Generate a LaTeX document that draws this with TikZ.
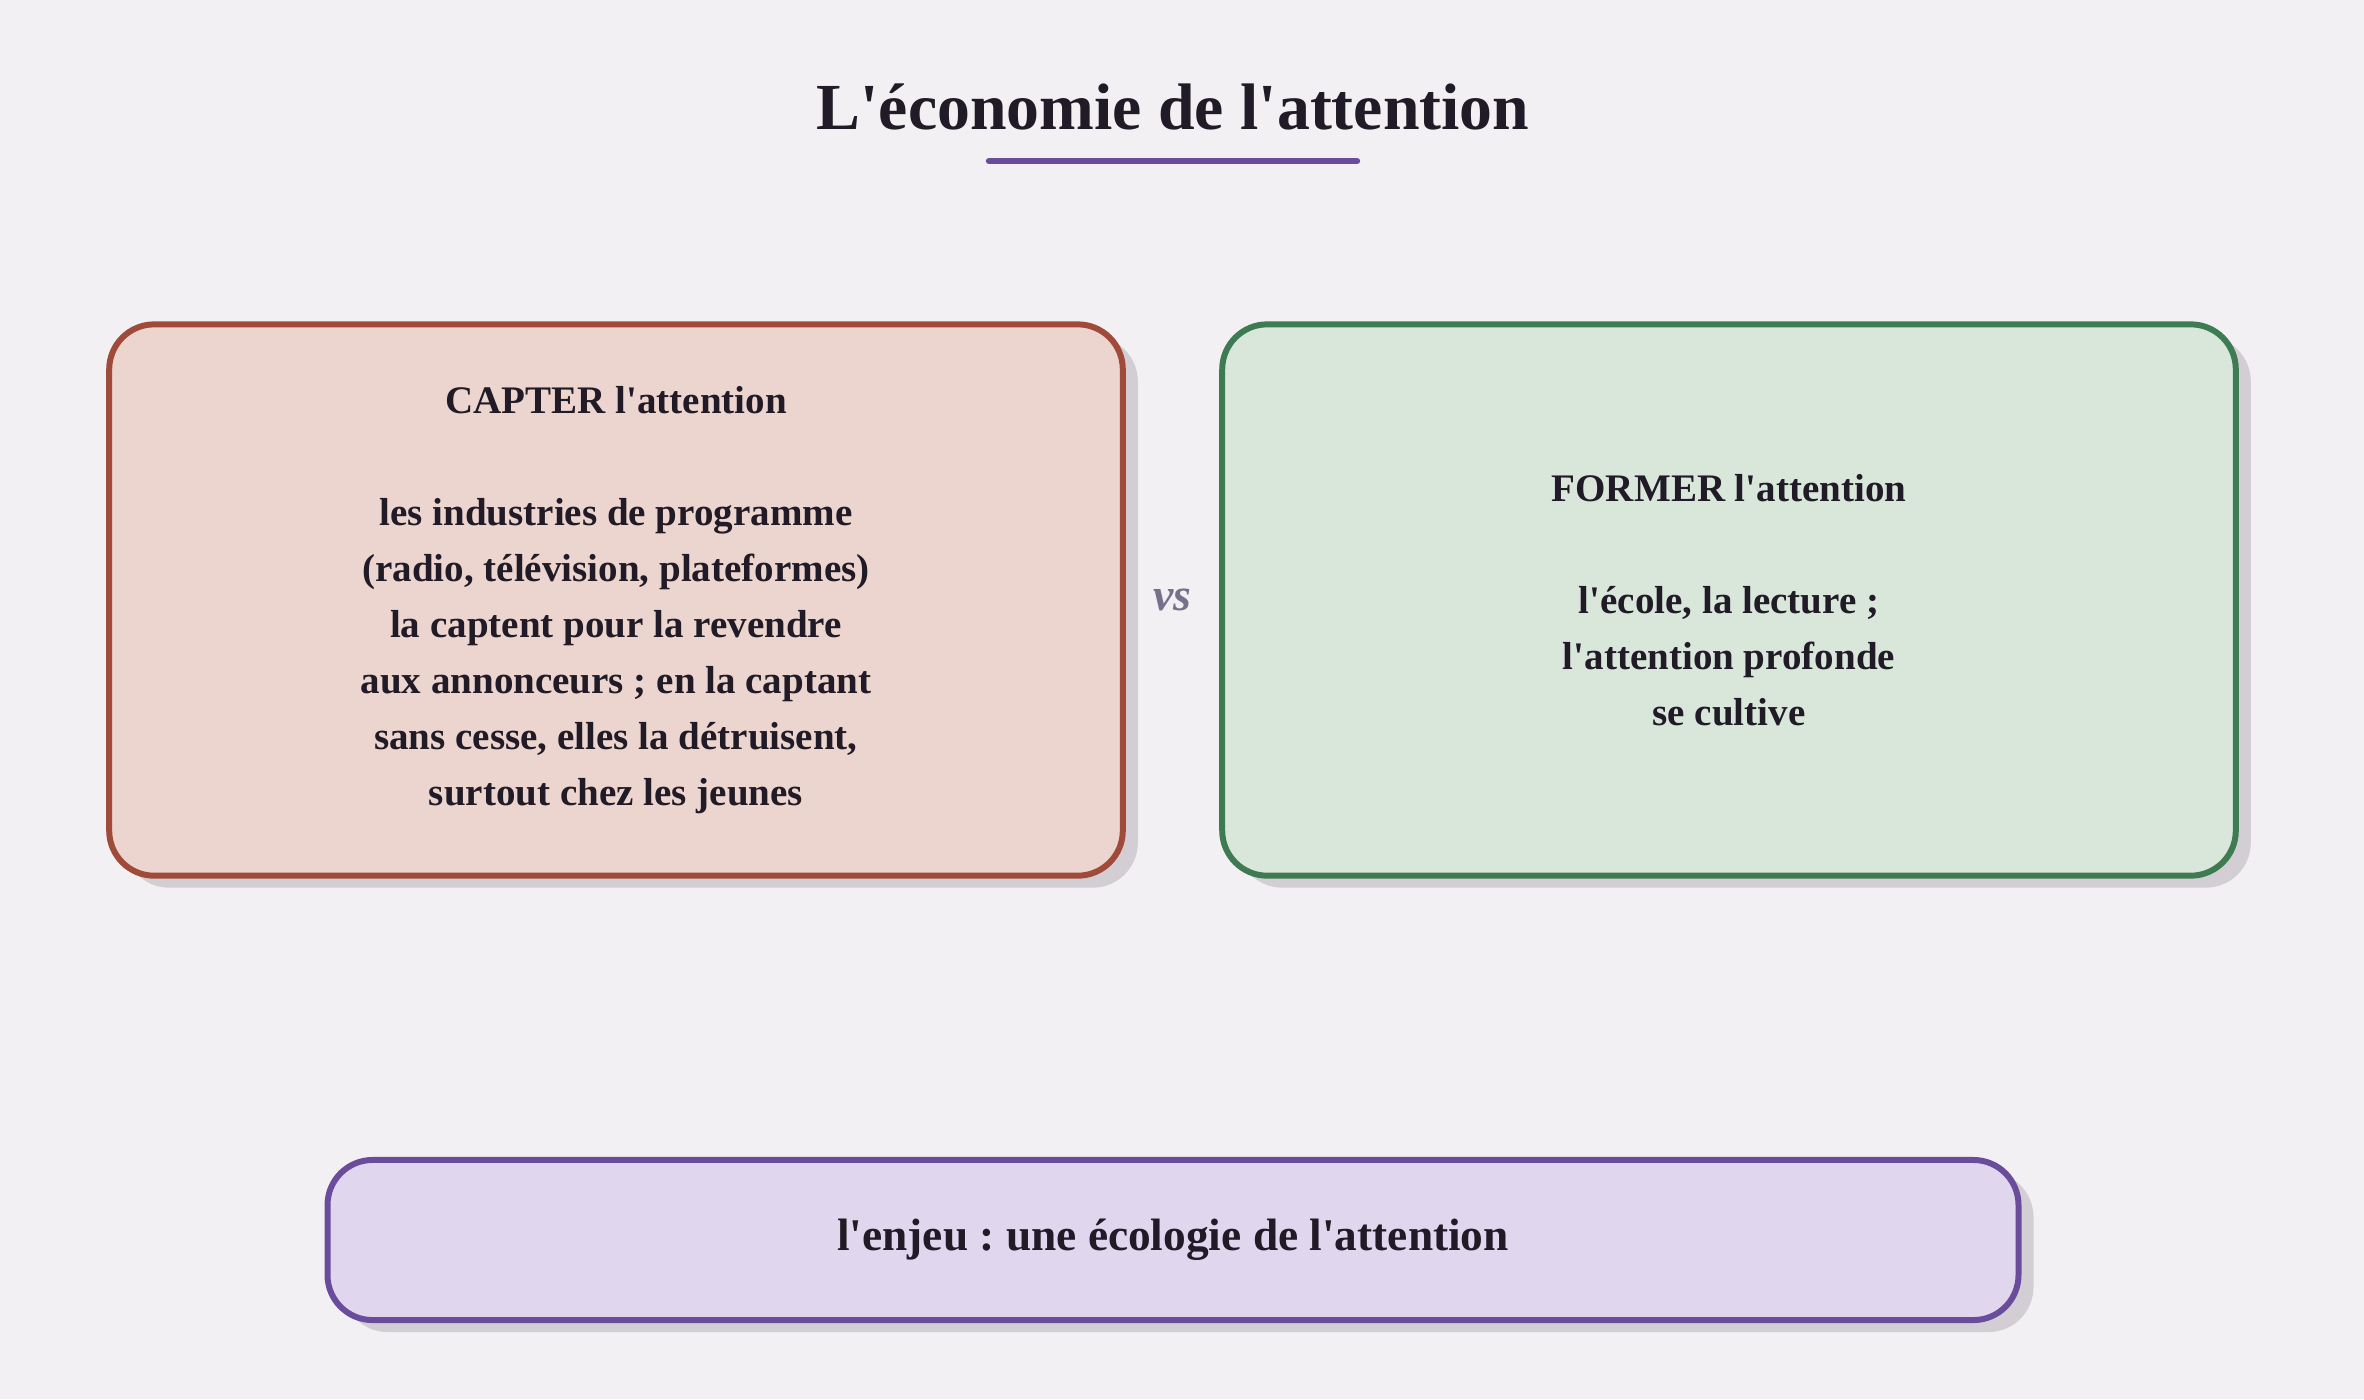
\documentclass[tikz,border=0pt]{standalone}
\usepackage{fontspec}
\setmainfont{Liberation Serif}[Ligatures=TeXOff]
\frenchspacing
\usetikzlibrary{positioning, shadows, calc}

\definecolor{pagebg}{HTML}{F2F0F3}
\definecolor{inkc}{HTML}{201B26}
\definecolor{shadowc}{HTML}{D2CED4}
\definecolor{captfill}{HTML}{ECD5CF}
\definecolor{captline}{HTML}{A04B3A}
\definecolor{formfill}{HTML}{D9E7DB}
\definecolor{formline}{HTML}{3E7B53}
\definecolor{enjfill}{HTML}{E0D6EE}
\definecolor{enjline}{HTML}{6A4C9C}
\definecolor{vsc}{HTML}{77708A}

\begin{document}
\begin{tikzpicture}[
    x=0.01cm, y=-0.01cm,
    ideabox/.style={
      rounded corners=0.45cm, line width=1.7pt, align=center,
      text=inkc, font=\bfseries\fontsize{11.1}{15.9}\selectfont,
      drop shadow={fill=shadowc, opacity=1,
                   shadow xshift=0.15cm, shadow yshift=-0.12cm},
    },
    capterbox/.style={ideabox, draw=captline, fill=captfill,
      minimum width=10.13cm, minimum height=5.51cm},
    formerbox/.style={ideabox, draw=formline, fill=formfill,
      minimum width=10.13cm, minimum height=5.51cm},
    enjeubox/.style={ideabox, draw=enjline, fill=enjfill,
      minimum width=16.9cm, minimum height=1.6cm,
      font=\bfseries\fontsize{12.9}{16}\selectfont},
  ]

  %% ---- page ----
  \fill[pagebg] (0,0) rectangle (2364,1399);
  \useasboundingbox (0,0) rectangle (2364,1399);

  %% ---- title ----
  \node[font=\bfseries\fontsize{18.7}{22}\selectfont, text=inkc] (title)
    at (1173,107) {L'économie de l'attention};
  \coordinate (ulL) at (989,161);
  \coordinate (ulR) at (1357,161);
  \draw[enjline, line width=1.8pt, line cap=round] (ulL) -- (ulR);

  %% ---- the two sides ----
  \node[capterbox] (capter) at (616,600)
    {CAPTER l'attention\\[15.9pt]
     les industries de programme\\
     (radio, télévision, plateformes)\\
     la captent pour la revendre\\
     aux annonceurs ; en la captant\\
     sans cesse, elles la détruisent,\\
     surtout chez les jeunes};

  \node[formerbox] (former) at (1729,600)
    {FORMER l'attention\\[15.9pt]
     l'école, la lecture ;\\
     l'attention profonde\\
     se cultive};

  \node[font=\bfseries\itshape\fontsize{13}{15}\selectfont, text=vsc] (vs)
    at ($(capter.east)!0.5!(former.west)$) {vs};

  %% ---- the stake ----
  \node[enjeubox] (enjeu) at (1173,1240)
    {l'enjeu : une écologie de l'attention};

\end{tikzpicture}
\end{document}
